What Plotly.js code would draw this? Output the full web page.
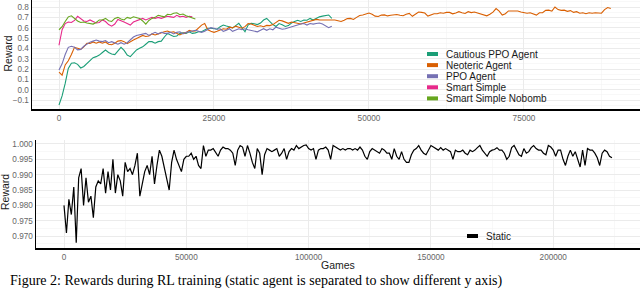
<!DOCTYPE html>
<html><head><meta charset="utf-8">
<script src="https://cdn.plot.ly/plotly-3.0.1.min.js"></script>
<style>html,body{margin:0;padding:0;background:#fff}#chart{width:640px;height:290px}</style>
</head><body><div id="chart"></div>
<script>
const W = 640, H = 290;
const FONT = 'Liberation Sans, Arial, Helvetica, sans-serif';

// ---- top panel data (x step = 500 games) ----
const seriesNames = ['Cautious PPO Agent', 'Neoteric Agent', 'PPO Agent', 'Smart Simple', 'Smart Simple Nobomb'];
const seriesColors = ['#1B9E77', '#D95F02', '#7570B3', '#E7298A', '#66A61E'];
const stepTop = 500;

const cautiousPPO = [-0.148,-0.06,0.06,0.206,0.255,0.26,0.245,0.21,0.225,0.255,0.29,0.31,0.32,0.335,0.36,0.384,0.36,0.345,0.34,0.37,0.41,0.38,0.335,0.32,0.35,0.385,0.40,0.415,0.44,0.465,0.465,0.45,0.465,0.47,0.51,0.545,0.53,0.515,0.52,0.545,0.55,0.545,0.56,0.545,0.55,0.56,
  0.56,0.575,0.594,0.595,0.59,0.585,
  0.61,0.626,0.616,0.61,0.598,0.62,0.642,0.60,0.561,0.625,0.642,0.638,0.63,0.645,0.674,0.69,0.66,0.63,0.612,0.64,0.628,0.612,0.62,0.645,0.66,0.672,0.66,0.674,0.672,0.69,0.674,0.69,0.705,0.712,0.72,0.723,0.69];

const neoteric = [0.17,0.14,0.24,0.28,0.34,0.41,0.40,0.39,0.415,0.448,0.448,0.462,0.45,0.462,0.45,0.462,0.44,0.435,0.45,0.47,0.475,0.465,0.445,0.465,0.48,0.495,0.51,0.525,0.515,0.52,0.54,0.53,0.54,0.552,0.56,0.568,0.555,0.56,0.548,0.53,0.545,0.552,0.575,0.565,0.568,0.60,0.625,0.64,
  0.58,0.565,0.555,0.565,
  0.58,0.59,0.585,0.605,0.598,0.615,0.605,0.595,0.61,0.64,0.635,0.625,0.612,0.618,0.61,0.622,0.62,0.63,0.652,0.672,0.666,0.655,0.642,0.655,0.648,0.64,0.636,0.645,0.655,0.665,0.672,0.68,0.676,0.674,0.676,0.672,0.675,0.674,0.668,0.66,0.672,0.688,0.69,0.68,0.70,0.718,0.723,0.73,0.742,0.73,0.712,0.708,0.722,0.724,0.714,0.72,0.724,0.728,0.72,0.716,0.73,0.738,0.71,0.735,0.752,
  0.748,0.742,0.712,0.725,0.735,0.735,0.745,0.74,0.748,0.748,0.734,0.742,0.755,0.745,0.738,0.755,0.746,0.752,0.742,0.734,0.723,0.715,0.73,0.75,0.785,0.76,0.723,0.735,0.762,0.76,0.765,0.762,0.752,0.745,0.74,0.745,0.732,0.722,0.745,0.745,0.768,0.77,0.76,0.8,0.775,0.768,0.77,0.758,0.765,0.748,0.755,0.74,0.744,0.735,0.745,0.74,0.744,0.742,0.74,0.775,0.795,0.785];

const ppoAgent = [0.19,0.25,0.34,0.41,0.42,0.41,0.385,0.39,0.42,0.44,0.46,0.47,0.48,0.47,0.465,0.475,0.455,0.465,0.455,0.44,0.455,0.44,0.455,0.48,0.51,0.525,0.53,0.54,0.545,0.525,0.54,0.555,0.54,0.555,0.545,0.545,0.555,0.54,0.555,0.56,0.54,0.555,0.56,0.57,0.575,0.565,
  0.555,0.565,0.58,0.6,0.595,0.585,
  0.59,0.565,0.575,0.59,0.565,0.575,0.59,0.58,0.59,0.58,0.575,0.57,0.56,0.575,0.59,0.575,0.59,0.58,0.605,0.595,0.585,0.59,0.60,0.61,0.615,0.625,0.635,0.64,0.625,0.64,0.635,0.64,0.645,0.635,0.62,0.60,0.615];

const smartSimple = [0.43,0.58,0.64,0.655,0.65,0.67,0.71,0.69,0.665,0.66,0.675,0.66,0.645,0.65,0.675,0.66,0.63,0.615,0.635,0.68,0.67,0.655,0.64,0.625,0.655,0.665,0.68,0.69,0.675,0.69,0.70,0.69,0.70,0.69,0.70,0.71,0.705,0.70,0.72,0.705,0.71,0.70,0.71,0.705];

const smartSimpleNobomb = [0.58,0.61,0.66,0.705,0.715,0.69,0.665,0.65,0.655,0.645,0.64,0.635,0.65,0.675,0.675,0.69,0.668,0.66,0.69,0.70,0.685,0.675,0.70,0.69,0.705,0.70,0.69,0.665,0.635,0.67,0.69,0.70,0.72,0.712,0.705,0.73,0.725,0.74,0.745,0.725,0.732,0.715,0.705,0.69,0.685];

// ---- bottom panel data (x step = 1000 games) ----
const staticName = 'Static';
const stepStatic = 1000;
const staticReward = [0.980,0.971,0.982,0.977,0.986,0.9678,0.989,0.992,0.980,0.989,
  0.981,0.983,0.976,0.986,0.988,0.987,0.992,0.984,0.991,0.985,
  0.995,0.984,0.990,0.988,0.983,0.994,0.991,0.992,0.990,0.993,
  0.997,0.983,0.987,0.991,0.993,0.990,0.996,0.987,0.993,0.998,
  0.996,0.992,0.989,0.985,0.994,0.998,0.995,0.993,0.991,0.995,
  0.996,0.996,0.997,0.995,0.996,0.993,0.992,0.9995,0.996,0.998,
  0.998,0.9985,0.997,0.996,0.998,0.999,0.9985,0.9985,0.998,0.997,
  0.993,0.998,0.9995,0.999,0.996,0.9995,0.997,0.994,0.992,
  0.9985,0.997,0.990,0.9965,0.9985,0.998,0.9975,0.998,0.9985,0.996,0.997,
  0.9985,0.995,0.9975,0.9985,0.998,0.9995,0.9985,0.999,0.9995,0.9997,
  0.9985,0.998,0.9985,0.995,0.998,0.9985,0.9985,0.999,0.998,0.995,
  0.9995,0.999,0.9985,0.998,0.9985,0.998,0.9985,0.9985,0.998,0.9985,
  0.998,0.999,0.998,0.996,0.995,0.9975,0.9985,0.998,0.9975,0.997,
  0.9985,0.998,0.997,0.997,0.995,0.9985,0.996,0.995,0.9975,0.995,
  0.994,0.994,0.9965,0.998,0.9985,0.9995,
  0.998,0.997,0.9965,0.998,0.9995,0.999,0.9985,0.998,0.9988,0.998,
  0.9985,0.998,0.9975,0.995,0.998,0.9975,0.9975,0.998,0.997,0.9965,
  0.998,0.9975,0.998,0.9988,0.9995,0.998,0.997,0.996,0.9975,0.998,
  0.9982,0.9988,0.998,0.998,0.997,0.995,0.996,0.9988,0.9995,0.998,
  0.9965,0.996,0.9985,0.997,0.9975,0.9988,0.9995,0.9985,0.998,0.998,
  0.997,0.9965,0.9995,0.999,0.998,0.996,0.998,0.998,0.995,0.993,
  0.996,0.998,0.996,0.9975,0.995,0.9925,0.998,0.993,0.9985,0.998,
  0.998,0.997,0.9955,0.993,0.997,0.998,0.9975,0.996,0.9955];

// ---- axis tick values ----
const topXTicks = [0, 25000, 50000, 75000];
const bottomXTicks = [0, 50000, 100000, 150000, 200000];

const px = v => v / W;
const py = v => 1 - v / H;
const xsOf = (arr, step) => arr.map((_, i) => i * step);

const topSeries = [cautiousPPO, neoteric, ppoAgent, smartSimple, smartSimpleNobomb];
const traces = topSeries.map((vals, i) => ({
  type: 'scatter', mode: 'lines', name: seriesNames[i],
  x: xsOf(vals, stepTop), y: vals, xaxis: 'x', yaxis: 'y',
  line: {color: seriesColors[i], width: 1.1}, showlegend: false, hoverinfo: 'skip'
}));
traces.push({
  type: 'scatter', mode: 'lines', name: staticName,
  x: xsOf(staticReward, stepStatic), y: staticReward, xaxis: 'x2', yaxis: 'y2',
  line: {color: '#000000', width: 1.2}, showlegend: false, hoverinfo: 'skip'
});

const tickfont = {family: FONT, size: 8.2, color: '#666666'};
const baseAxis = {
  showgrid: true, gridcolor: '#ebebeb', gridwidth: 1, zeroline: false, ticks: '',
  showline: true, linecolor: '#000000', tickfont: tickfont, fixedrange: true
};
const minorGrid = d => ({dtick: d, showgrid: true, gridcolor: '#f4f4f4', gridwidth: 0.6, ticks: ''});

const shapes = [];
const annotations = [];
const txt = (x, y, text, extra) => Object.assign({xref: 'paper', yref: 'paper', x: px(x), y: py(y),
  xanchor: 'center', yanchor: 'middle', showarrow: false, text: text,
  font: {family: FONT, size: 10, color: '#1a1a1a'}}, extra || {});
// manual legend, top panel
seriesNames.forEach((nm, i) => {
  const cy = 54 + i * 11.1;
  shapes.push({type: 'rect', xref: 'paper', yref: 'paper', x0: px(427), x1: px(438), y0: py(cy + 2), y1: py(cy - 2),
    fillcolor: seriesColors[i], line: {width: 0}});
  annotations.push(txt(444, cy, nm, {xanchor: 'left'}));
});
// manual legend, bottom panel
shapes.push({type: 'rect', xref: 'paper', yref: 'paper', x0: px(467), x1: px(478), y0: py(238), y1: py(234),
  fillcolor: '#000000', line: {width: 0}});
annotations.push(txt(484, 236, staticName, {xanchor: 'left'}));
// axis titles
annotations.push(txt(7.5, 54, 'Reward', {textangle: -90, font: {family: FONT, size: 10.5, color: '#1a1a1a'}}));
annotations.push(txt(5, 192, 'Reward', {textangle: -90, font: {family: FONT, size: 10.5, color: '#1a1a1a'}}));
annotations.push(txt(338, 265, 'Games', {font: {family: FONT, size: 10.5, color: '#1a1a1a'}}));
// figure caption
annotations.push(txt(9, 290, 'Figure 2: Rewards during RL training (static agent is separated to show different y axis)',
  {xanchor: 'left', yanchor: 'bottom', borderpad: 0,
   font: {family: 'Liberation Serif, Times New Roman, serif', size: 14, color: '#000000'}}));

const layout = {
  width: W, height: H, margin: {l: 0, r: 0, t: 0, b: 0},
  paper_bgcolor: '#ffffff', plot_bgcolor: '#ffffff', showlegend: false,
  font: {family: FONT, size: 10, color: '#1a1a1a'},
  xaxis: Object.assign({}, baseAxis, {
    domain: [px(32), 1], anchor: 'y', range: [-4355, 93715],
    tickmode: 'linear', tick0: 0, dtick: 25000, tickformat: 'd', linewidth: 2,
    minor: minorGrid(12500)
  }),
  yaxis: Object.assign({}, baseAxis, {
    domain: [py(109), 1], anchor: 'x', range: [-0.187, 0.868],
    tickmode: 'linear', tick0: 0, dtick: 0.1, tickformat: '.1f', linewidth: 1.5,
    minor: minorGrid(0.05)
  }),
  xaxis2: Object.assign({}, baseAxis, {
    domain: [px(36), 1], anchor: 'y2', range: [-11446, 235469],
    tickmode: 'linear', tick0: 0, dtick: 50000, tickformat: 'd', linewidth: 2,
    minor: minorGrid(25000)
  }),
  yaxis2: Object.assign({}, baseAxis, {
    domain: [py(248), py(140)], anchor: 'x2', range: [0.9661, 1.0013],
    tickmode: 'linear', tick0: 0.97, dtick: 0.005, tickformat: '.3f', linewidth: 1.5,
    minor: Object.assign(minorGrid(0.0025), {tick0: 0.97})
  }),
  shapes: shapes, annotations: annotations
};

Plotly.newPlot('chart', traces, layout, {staticPlot: true, displayModeBar: false});
</script>
</body></html>
